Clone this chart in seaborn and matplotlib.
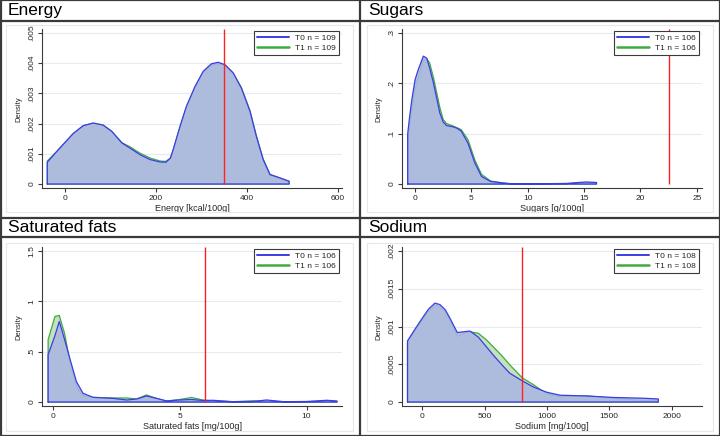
import numpy as np
import matplotlib
matplotlib.use("Agg")
import matplotlib.pyplot as plt
import seaborn as sns
from matplotlib.lines import Line2D
from matplotlib.patches import Rectangle

# ---- data (kernel density curves, T0 vs T1) ----
energy_x = [-39, -18, 18, 40, 62, 84, 103, 125, 143, 165, 187, 209, 222, 232, 238,
            253, 267, 286, 304, 322, 337, 352, 370, 388, 407, 421, 436, 451, 473, 493]
energy_t0 = [0.00072, 0.00108, 0.00167, 0.00193, 0.00202, 0.00195, 0.00174, 0.00136,
             0.00119, 0.00097, 0.00081, 0.00073, 0.00072, 0.00086, 0.00114, 0.00191,
             0.00257, 0.00323, 0.00373, 0.00398, 0.00403, 0.00395, 0.00368, 0.00318,
             0.00241, 0.00158, 0.00081, 0.00031, 0.00020, 0.00009]
energy_t1 = [0.00076, 0.00108, 0.00167, 0.00193, 0.00201, 0.00195, 0.00174, 0.00137,
             0.00123, 0.00102, 0.00086, 0.00076, 0.00075, 0.00086, 0.00112, 0.00188,
             0.00253, 0.00318, 0.00368, 0.00394, 0.00398, 0.00393, 0.00367, 0.00319,
             0.00243, 0.00160, 0.00083, 0.00032, 0.00020, 0.00009]

sugars_x = [-0.65, -0.5, -0.3, 0.0, 0.25, 0.5, 0.74, 1.04, 1.3, 1.63, 2.2, 2.5, 2.8,
            3.3, 3.7, 4.1, 4.7, 5.3, 5.9, 6.7, 7.8, 8.7, 13.5, 14.5, 15.2, 16.1]
sugars_t0 = [0.100, 0.130, 0.165, 0.207, 0.225, 0.240, 0.254, 0.250, 0.230, 0.201,
             0.141, 0.123, 0.116, 0.114, 0.111, 0.105, 0.081, 0.042, 0.015, 0.005,
             0.002, 0.000, 0.001, 0.003, 0.004, 0.003]
sugars_t1 = [0.090, 0.110, 0.145, 0.190, 0.210, 0.228, 0.245, 0.249, 0.240, 0.212,
             0.152, 0.128, 0.120, 0.116, 0.112, 0.108, 0.088, 0.048, 0.019, 0.006,
             0.002, 0.000, 0.001, 0.002, 0.003, 0.002]

satfat_x = [-0.2, 0.07, 0.24, 0.45, 0.66, 0.92, 1.18, 1.58, 2.37, 2.9, 3.3, 3.68,
            4.08, 4.47, 5.0, 5.46, 5.9, 6.3, 7.1, 7.9, 8.42, 9.1, 10.0, 10.8, 11.2]
satfat_t0 = [0.47, 0.66, 0.80, 0.62, 0.43, 0.20, 0.086, 0.046, 0.036, 0.020, 0.030,
             0.060, 0.036, 0.010, 0.020, 0.025, 0.015, 0.017, 0.003, 0.005, 0.020,
             0.003, 0.005, 0.017, 0.010]
satfat_t1 = [0.62, 0.85, 0.86, 0.68, 0.40, 0.15, 0.060, 0.046, 0.040, 0.040, 0.030,
             0.070, 0.036, 0.010, 0.025, 0.045, 0.020, 0.010, 0.003, 0.012, 0.008,
             0.003, 0.003, 0.008, 0.006]

sodium_x = [-118, -60, 0, 50, 102, 142, 185, 222, 281, 330, 382, 449, 510, 570, 640,
            703, 802, 890, 997, 1104, 1318, 1532, 1773, 1893]
sodium_t0 = [0.00081, 0.00096, 0.00111, 0.00123, 0.00131, 0.00129, 0.00122, 0.00111,
             0.00092, 0.00093, 0.00094, 0.00086, 0.00074, 0.00062, 0.00049, 0.00038,
             0.00028, 0.00020, 0.00013, 0.00009, 0.00008, 0.00006, 0.00005, 0.00004]
sodium_t1 = [0.00079, 0.00094, 0.00108, 0.00120, 0.00128, 0.00126, 0.00119, 0.00108,
             0.00087, 0.00091, 0.00093, 0.00091, 0.00083, 0.00073, 0.00061, 0.00049,
             0.00032, 0.00023, 0.00011, 0.00007, 0.00008, 0.00005, 0.00002, 0.00002]

titles = ["Energy", "Sugars", "Saturated fats", "Sodium"]
xlabels = ["Energy [kcal/100g]", "Sugars [g/100g]", "Saturated fats [mg/100g]",
           "Sodium [mg/100g]"]
limits = [350, 22.5, 6, 800]
n_t0 = [109, 106, 106, 108]
n_t1 = [109, 106, 106, 108]

xticks = [[0, 200, 400, 600], [0, 5, 10, 15, 20, 25], [0, 5, 10],
          [0, 500, 1000, 1500, 2000]]
yticks = [[0, 0.001, 0.002, 0.003, 0.004, 0.005], [0, 0.1, 0.2, 0.3],
          [0, 0.5, 1.0, 1.5], [0, 0.0005, 0.001, 0.0015, 0.002]]
ytick_labels = [["0", ".001", ".002", ".003", ".004", ".005"], ["0", ".1", ".2", ".3"],
                ["0", ".5", "1", "1.5"], ["0", ".0005", ".001", ".0015", ".002"]]

curves = [(energy_x, energy_t0, energy_t1), (sugars_x, sugars_t0, sugars_t1),
          (satfat_x, satfat_t0, satfat_t1), (sodium_x, sodium_t0, sodium_t1)]

# ---- styling / layout ----
xlims = [(-50, 609.5), (-1.13, 25.46), (-0.43, 11.40), (-160, 2243)]
panel_origins = [(0, 0), (360, 0), (0, 218), (360, 218)]

W, H = 720, 436
BLUE = "#3c3ce6"
GREEN = "#3faa3f"
BLUE_FILL = "#aab7e2"
GREEN_FILL = "#c4e2bb"
DARK = "#3a3a3a"

sns.set_style("white")
plt.rcParams['font.family'] = ['Liberation Sans', 'DejaVu Sans']

fig = plt.figure(figsize=(W / 100, H / 100), dpi=100)
fig.patch.set_facecolor("white")


def fig_line(x0, y0, x1, y1, color=DARK, lw=1.6):
    fig.add_artist(Line2D([x0 / W, x1 / W], [1 - y0 / H, 1 - y1 / H],
                          transform=fig.transFigure, color=color, lw=lw))


def closed(xs, ys):
    px = [xs[0]] + list(xs) + [xs[-1], xs[0]]
    py = [0] + list(ys) + [0, 0]
    return px, py


for i in range(4):
    ox, oy = panel_origins[i]
    band_h = 20.7 if oy == 0 else 18.7

    # light plot-region frame
    fig.add_artist(Rectangle(((ox + 6.5) / W, 1 - (oy + 212.5) / H),
                             346.5 / W, 187.5 / H, transform=fig.transFigure,
                             fill=False, edgecolor="#e2e9ee", lw=0.8))

    # axes placement (pixels relative to panel)
    left, right, top, bottom = 42.3, 342.0, 29.0, 188.3
    ax = fig.add_axes([(ox + left) / W, 1 - (oy + bottom) / H,
                       (right - left) / W, (bottom - top) / H])
    ax.set_facecolor("none")

    T = yticks[i][-1]
    ax.set_ylim(-T * 4.3 / 151, T * 155 / 151)
    ax.set_xlim(*xlims[i])

    for t in yticks[i][1:]:
        ax.axhline(t, color="#e4ecf0", lw=0.8, zorder=0)

    xs, t0, t1 = curves[i]
    p1x, p1y = closed(xs, t1)
    p0x, p0y = closed(xs, t0)
    ax.fill(p1x, p1y, color=GREEN_FILL, lw=0, zorder=1)
    sns.lineplot(x=p1x, y=p1y, sort=False, estimator=None, color=GREEN, lw=0.9,
                 ax=ax, zorder=2)
    ax.fill(p0x, p0y, color=BLUE_FILL, alpha=0.88, lw=0, zorder=3)
    sns.lineplot(x=p0x, y=p0y, sort=False, estimator=None, color=BLUE, lw=0.9,
                 ax=ax, zorder=4)

    ax.vlines(limits[i], 0, T * 155 / 151, color="#ff2020", lw=1.0, zorder=5)

    ax.set_xticks(xticks[i])
    ax.set_xticklabels([str(v) for v in xticks[i]])
    ax.set_yticks(yticks[i])
    ax.set_yticklabels(ytick_labels[i], rotation=90, va="center")
    ax.tick_params(axis="both", direction="out", length=3, width=0.8, color=DARK,
                   labelsize=6, pad=2, left=True, bottom=True)
    for s in ["top", "right"]:
        ax.spines[s].set_visible(False)
    for s in ["left", "bottom"]:
        ax.spines[s].set_color(DARK)
        ax.spines[s].set_linewidth(0.8)
    ax.set_xlabel(xlabels[i], fontsize=6.5, labelpad=1)
    ax.set_ylabel("Density", fontsize=5.5, labelpad=4)

    handles = [Line2D([], [], color=BLUE, lw=1.4), Line2D([], [], color=GREEN, lw=1.8)]
    labels = [f"T0 n = {n_t0[i]}", f"T1 n = {n_t1[i]}"]
    leg = ax.legend(handles, labels, loc="upper right",
                    bbox_to_anchor=((ox + 339) / W, 1 - (oy + 31) / H),
                    bbox_transform=fig.transFigure, borderaxespad=0, fontsize=6,
                    handlelength=3.8, handletextpad=0.8, labelspacing=0.25,
                    borderpad=0.35, fancybox=False, framealpha=1)
    leg.get_frame().set_edgecolor(DARK)
    leg.get_frame().set_linewidth(0.8)

    # title band
    fig.text((ox + 8) / W, 1 - (oy + band_h / 2 + 0.5) / H, titles[i], fontsize=12.5,
             ha="left", va="center", color="black")
    fig_line(ox, oy + band_h, ox + 360, oy + band_h)

# panel dividers and outer border
fig_line(360, 0, 360, H)
fig_line(0, 218, W, 218)
fig_line(0.5, 0, 0.5, H)
fig_line(W - 0.5, 0, W - 0.5, H)
fig_line(0, 0.5, W, 0.5)
fig_line(0, H - 0.5, W, H - 0.5)

fig.savefig("out.png", dpi=100)
